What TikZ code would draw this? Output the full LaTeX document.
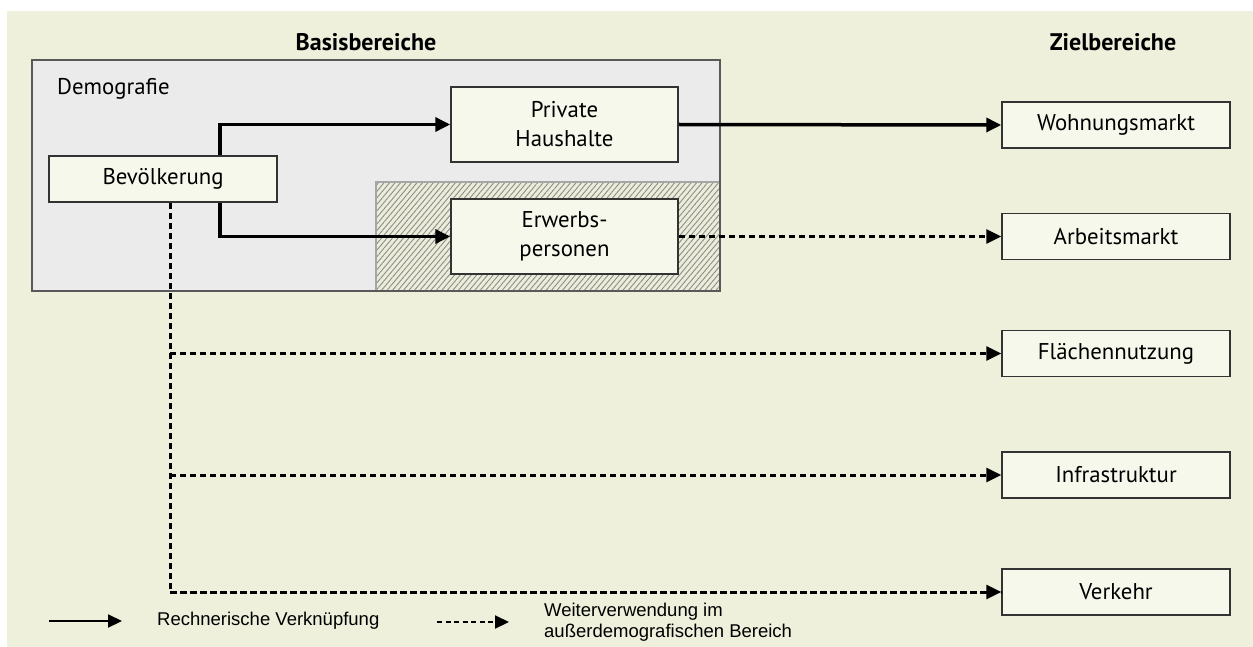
\documentclass[tikz,border=0pt]{standalone}
\usepackage{fontspec}
\setmainfont{PT Sans}
\newfontfamily\legendfont{Liberation Sans}
\usetikzlibrary{arrows.meta,patterns.meta}
\definecolor{bgc}{HTML}{EEF0DC}
\definecolor{demofill}{HTML}{EBEBEB}
\definecolor{boxfill}{HTML}{F7F8EC}
\definecolor{hatchfill}{HTML}{EBEDD9}
\definecolor{boxline}{HTML}{333333}
\tikzset{
  box/.style={draw=boxline, line width=1.5pt, fill=boxfill, inner sep=0pt, align=center,
    font=\fontsize{22.8}{29}\selectfont},
  bevbox/.style={box, minimum width=228pt, minimum height=46pt},
  midbox/.style={box, minimum width=227pt, minimum height=75pt},
  zielbox/.style={box, minimum width=228pt, minimum height=46pt},
  calc/.style={line width=3.5pt, -{Triangle[length=15pt,width=14pt]}},
  reuse/.style={line width=3pt, dash pattern=on 6pt off 4pt, -{Triangle[length=15pt,width=14pt]}},
  reuseline/.style={line width=3pt, dash pattern=on 6pt off 4pt},
  title/.style={font=\fontsize{24}{28}\selectfont\bfseries},
  legtext/.style={font=\legendfont\fontsize{18.5}{21}\selectfont, align=left, inner sep=0pt}
}
\begin{document}
\begin{tikzpicture}[x=1pt,y=-1pt]
\useasboundingbox (0,0) rectangle (1253,647);
\fill[bgc] (7,11) rectangle (1253,647);
% Demografie area
\draw[draw=black!65, line width=2pt, fill=demofill] (32,60) rectangle (720,291);
\fill[hatchfill] (376,182) rectangle (720,291);
\fill[pattern={Lines[angle=50,distance=4.2pt,line width=0.9pt]}, pattern color=black!45] (376,182) rectangle (720,291);
\draw[draw=black!35, line width=2pt] (376,182) rectangle (720,291);
\draw[draw=black!65, line width=2pt] (32,60) rectangle (720,291);
\node[anchor=base west, font=\fontsize{22.8}{26}\selectfont, inner sep=0pt] (demo) at (57,95) {Demografie};
% titles
\node[title] (basis) at (366,42) {Basisbereiche};
\node[title] (ziel) at (1113,42) {Zielbereiche};
% nodes
\node[bevbox] (bev) at (163,179) {Bevölkerung};
\node[midbox] (hh) at (564.5,124.5) {Private\\Haushalte};
\node[midbox] (erw) at (564.5,236.5) {Erwerbs-\\personen};
\node[zielbox] (wm) at (1116,125) {Wohnungsmarkt};
\node[zielbox] (am) at (1116,236.5) {Arbeitsmarkt};
\node[zielbox] (fn) at (1116,353.5) {Flächennutzung};
\node[zielbox] (inf) at (1116,475) {Infrastruktur};
\node[zielbox] (vk) at (1116,592) {Verkehr};
% connectors
\draw[calc] ([xshift=57pt]bev.north) |- (hh.west);
\draw[calc] ([xshift=57pt]bev.south) |- (erw.west);
\draw[calc] (hh.east) -- (wm.west);
\draw[reuse] (erw.east) -- (am.west);
\coordinate (trunk) at ([xshift=7pt]bev.south);
\draw[reuseline] (trunk) |- (vk.west);
\draw[reuse] (trunk |- fn.west) -- (fn.west);
\draw[reuse] (trunk |- inf.west) -- (inf.west);
\draw[reuse] (trunk |- vk.west) -- (vk.west);
% legend
\coordinate (l1a) at (49,621);
\coordinate (l1b) at (122,621);
\draw[line width=2.2pt, -{Triangle[length=14pt,width=13pt]}] (l1a) -- (l1b);
\node[legtext, anchor=west] (lt1) at (157,621) {Rechnerische Verknüpfung};
\coordinate (l2a) at (437,622);
\coordinate (l2b) at (509,622);
\draw[line width=2.2pt, dash pattern=on 5pt off 3.5pt, -{Triangle[length=14pt,width=13pt]}] (l2a) -- (l2b);
\node[legtext, anchor=west] (lt2) at (544,622) {Weiterverwendung im\\außerdemografischen Bereich};
\end{tikzpicture}
\end{document}
